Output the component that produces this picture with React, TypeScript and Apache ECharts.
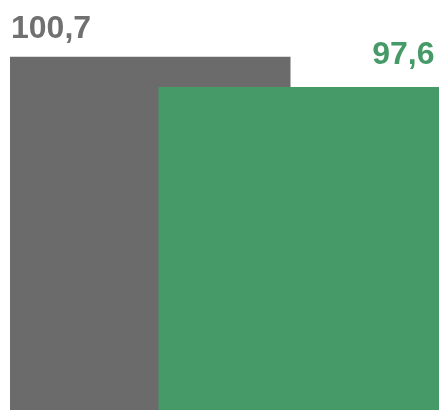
import React, { useEffect, useRef } from "react";
import * as echarts from "echarts";

const categories = ["A"];
const grayValues = [100.7];
const greenValues = [97.6];

export default function App() {
  const ref = useRef<HTMLDivElement>(null);
  useEffect(() => {
    if (!ref.current) return;
    const chart = echarts.init(ref.current, null, { renderer: "svg" });
    const fmt = (p: any) => String(p.value).replace(".", ",");
    chart.setOption({
      animation: false,
      grid: { left: 10, right: 0, top: 0, bottom: 0 },
      xAxis: {
        type: "category",
        data: categories,
        show: false,
      },
      yAxis: { type: "value", min: 64.56, max: 106.5, show: false },
      series: [
        {
          type: "bar",
          data: grayValues,
          barWidth: 280.5,
          barGap: "-47.06%",
          itemStyle: { color: "#6b6b6b" },
          label: {
            show: true,
            position: [1, -30],
            align: "left",
            verticalAlign: "middle",
            formatter: fmt,
            fontFamily: "Liberation Sans, Arial, sans-serif",
            fontWeight: "bold",
            fontSize: 32,
            color: "#707070",
          },
        },
        {
          type: "bar",
          data: greenValues,
          barWidth: 280.5,
          itemStyle: { color: "#459a68" },
          label: {
            show: true,
            position: [276, -34],
            align: "right",
            verticalAlign: "middle",
            formatter: fmt,
            fontFamily: "Liberation Sans, Arial, sans-serif",
            fontWeight: "bold",
            fontSize: 32,
            color: "#459a68",
          },
        },
      ],
    });
    return () => chart.dispose();
  }, []);
  return (
    <div
      ref={ref}
      style={{ position: "fixed", left: 0, top: 0, width: 439, height: 410 }}
    />
  );
}
